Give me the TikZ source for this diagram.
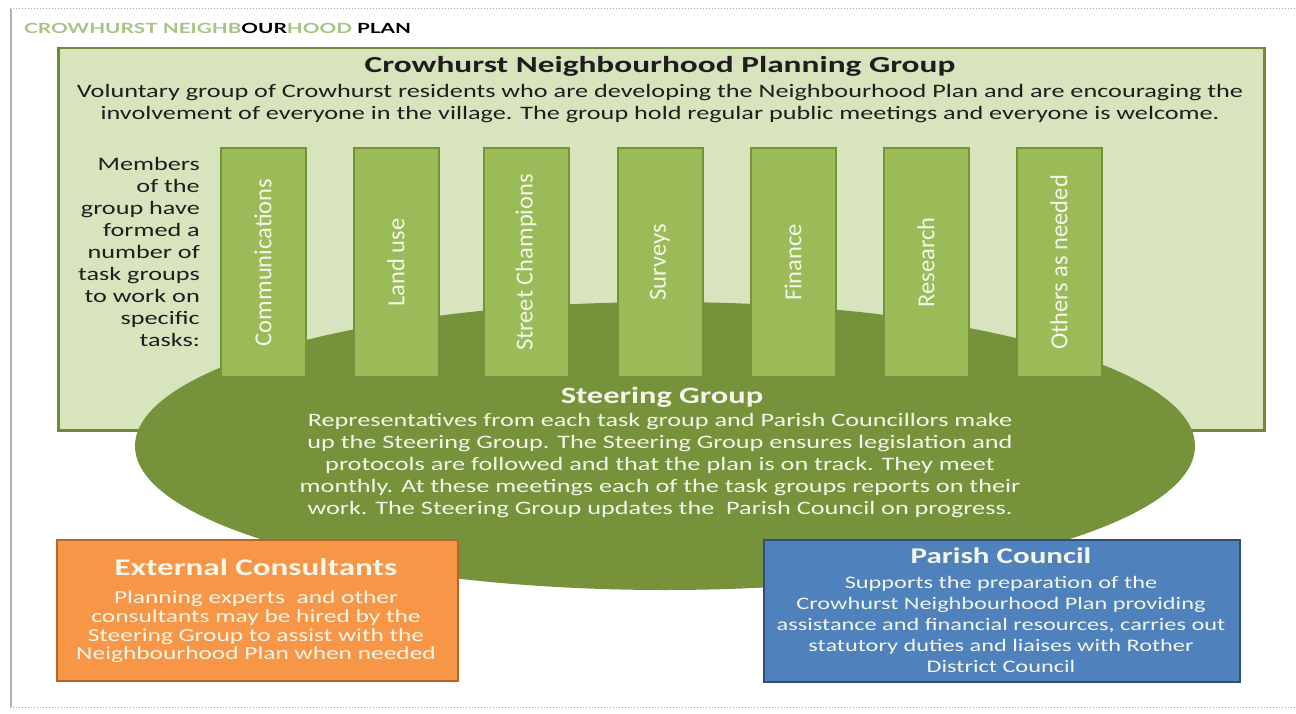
\documentclass[tikz,border=0pt]{standalone}
\usepackage{fontspec}
\setmainfont{Carlito}
\newfontfamily\ft[FakeStretch=1.48]{Lato}
\newfontfamily\fh[FakeStretch=1.45]{Carlito}
\newfontfamily\fa[FakeStretch=1.38]{Carlito}
\usetikzlibrary{shapes.geometric}
\definecolor{paleg}{HTML}{D8E4BE}
\definecolor{paleborder}{HTML}{6F8A3A}
\definecolor{barg}{HTML}{9BBB59}
\definecolor{barborder}{HTML}{76933C}
\definecolor{ellg}{HTML}{76933C}
\definecolor{orangef}{HTML}{F79646}
\definecolor{oranged}{HTML}{B8652A}
\definecolor{bluef}{HTML}{4F81BD}
\definecolor{blued}{HTML}{2F4F7A}
\definecolor{titleg}{HTML}{A9C383}
\definecolor{darktext}{HTML}{1E1E1E}
\definecolor{lighttext}{HTML}{F4F6EA}
\tikzset{
  barbox/.style={draw=barborder, line width=2pt, fill=barg, minimum width=85pt, minimum height=229pt, inner sep=0pt},
  bartext/.style={rotate=90, text=lighttext, font=\fontsize{24.5}{24.5}\selectfont},
  bodytext/.style={align=center, font=\fa\fontsize{19}{22}\selectfont, inner sep=0pt},
}
\begin{document}
\begin{tikzpicture}[x=1pt,y=-1pt]
\useasboundingbox (0,0) rectangle (1296,714);
\fill[white] (0,0) rectangle (1296,714);
% frame
\draw[gray!70, line width=1pt, dotted] (10,9) -- (1296,9);
\draw[gray!70, line width=1pt, dotted] (10,707) -- (1296,707);
\draw[gray!60, line width=1.2pt] (11,9) -- (11,707);
% title
\node[anchor=west, inner sep=0pt, font=\ft\bfseries\fontsize{14}{15}\selectfont] (title) at (24,28)
  {\textcolor{titleg}{CROWHURST NEIGHB}\textcolor{black}{OUR}\textcolor{titleg}{HOOD}\ \textcolor{black}{PLAN}};
% main box
\node[draw=paleborder, line width=2.5pt, fill=paleg, minimum width=1206pt, minimum height=382pt, anchor=north west, inner sep=0pt] (group) at (57,47) {};
\node[anchor=base, font=\fh\bfseries\fontsize{23}{23}\selectfont, text=darktext, inner sep=0pt] (grouphead) at (660,73) {Crowhurst Neighbourhood Planning Group};
\node[bodytext, text=darktext] (groupbody) at (660,104) {Voluntary group of Crowhurst residents who are developing the Neighbourhood Plan and are encouraging the\\involvement\ of everyone in the village. The group hold regular public meetings and everyone is welcome.};
\node[align=right, anchor=north east, font=\fa\fontsize{19}{22}\selectfont, text=darktext, inner sep=0pt] (members) at (200,157) {Members\\of the\\group have\\formed a\\number of\\task groups\\to work on\\specific\\tasks:};
% ellipse
\node[ellipse, fill=ellg, minimum width=1060pt, minimum height=288pt, inner sep=0pt] (steer) at (665,446) {};
% bars
\foreach \x/\n/\t in {263/b1/Communications, 396/b2/Land use, 526/b3/Street Champions, 660/b4/Surveys, 793/b5/Finance, 926/b6/Research, 1059/b7/Others as needed}{
  \node[barbox] (\n) at (\x,262.5) {};
  \node[bartext] at (\n.center) {\t};
}
% steering text
\node[font=\fa\bfseries\fontsize{23.5}{24}\selectfont, text=lighttext, inner sep=0pt] (steerhead) at (662,397) {Steering Group};
\node[bodytext, text=lighttext] (steerbody) at (660,466) {Representatives from each task group and Parish Councillors make\\up the Steering Group. The Steering Group ensures legislation and\\protocols are followed and that the plan is on track. They meet\\monthly. At these meetings each of the task groups reports on their\\work. The Steering Group updates the\ \ Parish Council on progress.};
% external consultants
\node[draw=oranged, line width=1.5pt, fill=orangef, minimum width=401pt, minimum height=141pt, anchor=north west, inner sep=0pt] (ext) at (56,539) {};
\node[font=\fa\bfseries\fontsize{24}{24}\selectfont, text=lighttext, inner sep=0pt] (exthead) at (256,567) {External Consultants};
\node[align=center, font=\fa\fontsize{18.4}{18.6}\selectfont, text=lighttext, inner sep=0pt] (extbody) at (256,627) {Planning experts\ \ and other\\consultants may be hired by the\\Steering Group to assist with the\\Neighbourhood Plan when needed};
% parish council
\node[draw=blued, line width=1.5pt, fill=bluef, minimum width=476pt, minimum height=142pt, anchor=north west, inner sep=0pt] (pc) at (763,539) {};
\node[font=\fa\bfseries\fontsize{22.5}{22}\selectfont, text=lighttext, inner sep=0pt] (pchead) at (1001,556) {Parish Council};
\node[align=center, font=\fa\fontsize{17.6}{21.2}\selectfont, text=lighttext, inner sep=0pt] (pcbody) at (1001,624.5) {Supports the preparation of the\\Crowhurst Neighbourhood Plan providing\\assistance and financial resources, carries out\\statutory duties and liaises with Rother\\District Council};
\end{tikzpicture}
\end{document}
